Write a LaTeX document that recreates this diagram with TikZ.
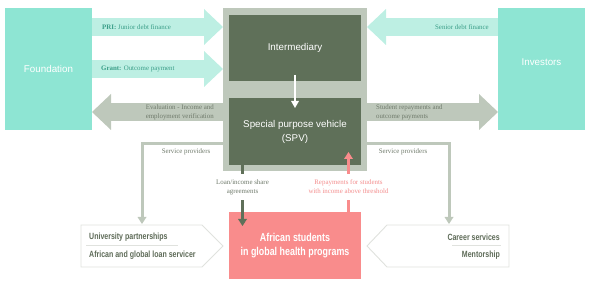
\documentclass[tikz,border=0pt]{standalone}
\usepackage{fontspec}
\setmainfont{Liberation Serif}
\newfontfamily\titlefont{Liberation Sans}
\newfontfamily\condfont[FakeStretch=0.78]{Liberation Sans}
\usetikzlibrary{arrows.meta,positioning,calc}
\definecolor{aqua}{HTML}{8EE5D3}
\definecolor{mint}{HTML}{BDEFE3}
\definecolor{minttext}{HTML}{3A9E88}
\definecolor{sage}{HTML}{BEC8BB}
\definecolor{forest}{HTML}{5F7059}
\definecolor{greytext}{HTML}{6F7A6B}
\definecolor{coral}{HTML}{F98C8C}
\definecolor{coraltext}{HTML}{F48E8E}
\definecolor{paleline}{HTML}{E0E2DE}
\definecolor{boxtext}{HTML}{5E6B58}
\tikzset{
  block/.style={rectangle,draw=none,inner sep=0pt,outer sep=0pt,align=center,text=white,font=\titlefont\fontsize{9.8}{14}\selectfont},
  bigarrow/.style={line width=18pt,-{Triangle[length=19pt,width=36pt,line width=0pt]}},
  thinarrow/.style={line width=3pt,-{Triangle[length=7pt,width=9pt,line width=0pt]}},
  flowlabel/.style={font=\fontsize{6.9}{8.8}\selectfont,inner sep=0pt},
  stacklabel/.style={font=\fontsize{6.9}{8.8}\selectfont,align=center,fill=white,inner xsep=1pt,minimum height=26pt},
  provtext/.style={font=\condfont\bfseries\fontsize{9}{11}\selectfont,text=boxtext,inner sep=0pt},
  provbox/.style={draw=paleline,fill=white,line width=0.9pt}
}
\begin{document}
\begin{tikzpicture}[x=1pt,y=-1pt]
  \useasboundingbox (0,0) rectangle (592,288);

  % outer boxes
  \node[block,fill=aqua,minimum width=87pt,minimum height=122pt] (found) at (48.5,69) {Foundation};
  \node[block,fill=aqua,minimum width=87pt,minimum height=122pt,
        label={[block,yshift=7pt]center:Investors}] (inv) at (541.5,69) {};

  % intermediary and SPV
  \node[block,fill=sage,minimum width=144pt,minimum height=163pt] (frame) at (295,89.5) {};
  \node[block,fill=forest,minimum width=132pt,minimum height=66pt] (inter) at (295,48) {Intermediary};
  \node[block,fill=forest,minimum width=132pt,minimum height=67pt] (spv) at (295,131.5) {Special purpose vehicle\\(SPV)};
  \node[block,fill=coral,minimum width=132pt,minimum height=67pt,
        font=\condfont\bfseries\fontsize{11.4}{14}\selectfont] (stud) at (295,245.5) {African students\\in global health programs};

  % money flows
  \draw[bigarrow,mint] (found.east |- 0,27) -- (frame.west |- 0,27);
  \draw[bigarrow,mint] (found.east |- 0,69) -- (frame.west |- 0,69);
  \draw[bigarrow,mint] (inv.west |- 0,27) -- (frame.east |- 0,27);
  \draw[bigarrow,sage] (frame.west |- 0,112) -- (found.east |- 0,112);
  \draw[bigarrow,sage] (frame.east |- 0,112) -- (inv.west |- 0,112);
  \node[flowlabel,text=minttext,anchor=west] at (102,27) {\textbf{PRI:} Junior debt finance};
  \node[flowlabel,text=minttext,anchor=west] at (101,69) {\textbf{Grant:} Outcome payment};
  \node[flowlabel,text=minttext,anchor=east] at (489,27) {Senior debt finance};
  \node[flowlabel,text=greytext,anchor=east,align=right] at (214,112) {Evaluation - Income and\\employment verification};
  \node[flowlabel,text=greytext,anchor=west,align=left] at (376,112) {Student repayments and\\outcome payments};

  \draw[white,line width=2.5pt,-{Triangle[length=7pt,width=8pt,line width=0pt]}] (295,75) -- (295,108);

  % service providers
  \draw[provbox] (81,225) coordinate (provl) -- (202,225) -- (223,246) -- (202,267) -- (81,267) -- cycle;
  \draw[provbox] (509,225) coordinate (provr) -- (387,225) -- (367,246) -- (387,267) -- (509,267) -- cycle;
  \node[provtext,anchor=west] at (89,237) {University partnerships};
  \draw[paleline,line width=0.9pt] (86,245.5) -- (178,245.5);
  \node[provtext,anchor=west] at (89,255) {African and global loan servicer};
  \node[provtext,anchor=east] at (500,237) {Career services};
  \draw[paleline,line width=0.9pt] (452,245.5) -- (501,245.5);
  \node[provtext,anchor=east] at (500,255) {Mentorship};

  \draw[thinarrow,sage] (frame.west |- 0,144) -| (142,224);
  \draw[thinarrow,sage] (frame.east |- 0,144) -| (449,224);
  \node[flowlabel,text=greytext] at (186,152) {Service providers};
  \node[flowlabel,text=greytext] at (403,152) {Service providers};

  % student contracts
  \node[stacklabel,text=greytext] (loanlbl) at (242.5,187) {Loan/income share\\agreements};
  \node[stacklabel,text=coraltext] (repaylbl) at (348.5,187) {Repayments for students\\with income above threshold};
  \coordinate (loantip) at (242.5,226);
  \coordinate (repaytip) at (348.5,152);
  \draw[forest,line width=3pt] (spv.south -| loanlbl) -- (loanlbl.north);
  \draw[thinarrow,forest] (loanlbl.south) -- (loantip);
  \draw[coral,line width=3pt] (stud.north -| repaylbl) -- (repaylbl.south);
  \draw[thinarrow,coral] (repaylbl.north) -- (repaytip);
\end{tikzpicture}
\end{document}
